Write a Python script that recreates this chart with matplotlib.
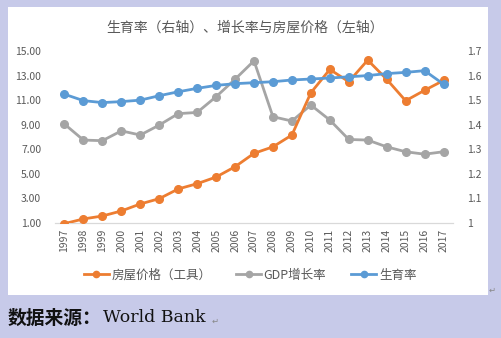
import matplotlib
matplotlib.use("Agg")
import matplotlib.pyplot as plt
from matplotlib.patches import Rectangle
from matplotlib.lines import Line2D

plt.rcParams['font.family'] = ['Noto Sans CJK SC', 'DejaVu Sans']

years = [str(y) for y in range(1997, 2018)]
house_price = [0.95, 1.33, 1.57, 1.98, 2.55, 2.98, 3.77, 4.20, 4.74, 5.58, 6.67,
               7.20, 8.16, 11.60, 13.50, 12.50, 14.26, 12.70, 10.95, 11.80, 12.60]
gdp_growth = [9.05, 7.75, 7.70, 8.50, 8.16, 8.97, 9.90, 10.00, 11.28, 12.70, 14.20,
              9.65, 9.30, 10.60, 9.38, 7.80, 7.75, 7.20, 6.80, 6.60, 6.80]
fertility = [1.524, 1.498, 1.490, 1.494, 1.500, 1.518, 1.534, 1.548, 1.560, 1.567, 1.571,
             1.575, 1.582, 1.586, 1.590, 1.595, 1.600, 1.608, 1.613, 1.620, 1.565]
left_ticks = [1, 3, 5, 7, 9, 11, 13, 15]
right_ticks = [1.0, 1.1, 1.2, 1.3, 1.4, 1.5, 1.6, 1.7]
right_labels = ['1', '1.1', '1.2', '1.3', '1.4', '1.5', '1.6', '1.7']

title = '生育率（右轴）、增长率与房屋价格（左轴）'
labels = ['房屋价格（工具）', 'GDP增长率', '生育率']
source_cn = '数据来源：'
source_en = 'World Bank'

C_ORANGE = '#ED7D31'
C_GRAY = '#A5A5A5'
C_BLUE = '#5B9BD5'
TXT = '#595959'
BG = '#C7CAE9'

W, H = 501, 338
fig = plt.figure(figsize=(W / 100, H / 100), dpi=100, facecolor=BG)
fig.patches.append(Rectangle((8 / W, 1 - 295 / H), 480 / W, 288 / H,
                             transform=fig.transFigure, facecolor='white',
                             edgecolor='none', zorder=-10))

ax = fig.add_axes([55 / W, 1 - 223 / H, 398 / W, 172 / H])
ax.set_facecolor('none')
x = list(range(len(years)))
lw, ms = 2.0, 5.5
ax.plot(x, house_price, color=C_ORANGE, lw=lw, marker='o', ms=ms, zorder=3)
ax.plot(x, gdp_growth, color=C_GRAY, lw=lw, marker='o', ms=ms, zorder=2)
ax.set_xlim(-0.5, len(years) - 0.5)
ax.set_ylim(1, 15)
ax.set_yticks(left_ticks)
ax.set_yticklabels([f'{v:.2f}' for v in left_ticks])
ax.set_xticks(x)
ax.set_xticklabels(years, rotation=90)
for s in ['top', 'right', 'left']:
    ax.spines[s].set_visible(False)
ax.spines['bottom'].set_color('#D9D9D9')
ax.spines['bottom'].set_linewidth(0.9)
ax.tick_params(axis='both', length=0, labelsize=7.5, colors=TXT)
ax.tick_params(axis='y', pad=10)
ax.tick_params(axis='x', pad=4)

ax2 = ax.twinx()
ax2.plot(x, fertility, color=C_BLUE, lw=lw, marker='o', ms=ms, zorder=4)
ax2.set_ylim(1.0, 1.7)
ax2.set_yticks(right_ticks)
ax2.set_yticklabels(right_labels)
for s in ['top', 'right', 'left', 'bottom']:
    ax2.spines[s].set_visible(False)
ax2.tick_params(axis='y', length=0, labelsize=7.5, colors=TXT, pad=10)

fig.text(245 / W, 1 - 28 / H, title, ha='center', va='center', fontsize=10, color=TXT)

handles = [Line2D([], [], color=c, lw=lw, marker='o', ms=4.5) for c in (C_ORANGE, C_GRAY, C_BLUE)]
fig.legend(handles, labels, loc='center', bbox_to_anchor=(250 / W, 1 - 275 / H), ncol=3,
           frameon=False, fontsize=9, labelcolor=TXT, handlelength=2.0, handletextpad=0.2,
           columnspacing=2.0)

fig.text(8 / W, 1 - 318 / H, source_cn, ha='left', va='center', fontsize=13.5,
         color='#111111', fontweight='bold')
fig.text(103 / W, 1 - 318 / H, source_en, ha='left', va='center', fontsize=12.5,
         color='#111111', family='DejaVu Serif')
fig.text(212 / W, 1 - 321 / H, '\u21b5', ha='left', va='center', fontsize=6,
         color='#888888', family='DejaVu Sans')
fig.text(489 / W, 1 - 290 / H, '\u21b5', ha='left', va='center', fontsize=6,
         color='#888888', family='DejaVu Sans')

fig.savefig('out.png', dpi=100, facecolor=BG)
